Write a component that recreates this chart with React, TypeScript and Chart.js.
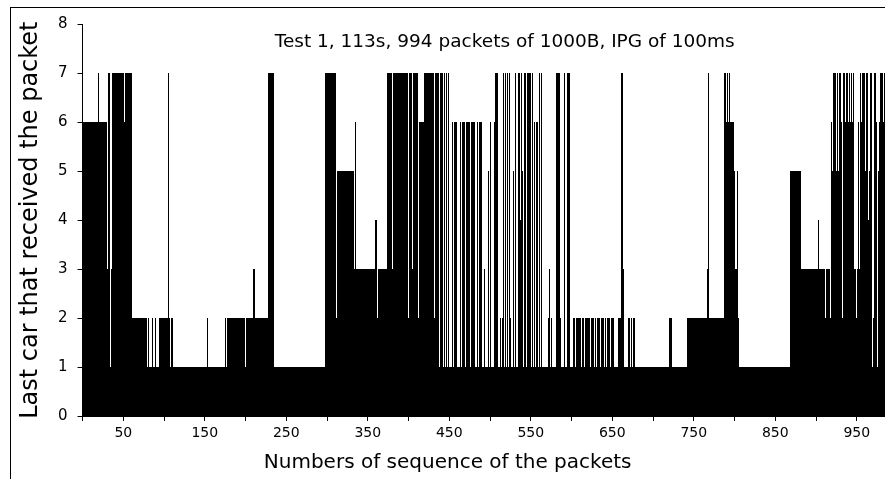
import React, { useEffect, useRef } from 'react';
import { Chart, registerables } from 'chart.js';

Chart.register(...registerables);

// Run-length readings of the picture: [last car reached, number of consecutive packets]
type Run = [number, number];

const runsA: Run[] = [
  [6, 19], [7, 1], [6, 10], [3, 1], [7, 2], [1, 1], [7, 1], [3, 1], [7, 14], [6, 1], [7, 9],
  [2, 19], [1, 1], [2, 1], [1, 4], [2, 1], [1, 3], [2, 1], [1, 3], [2, 1], [1, 1], [2, 4],
  [1, 1], [2, 4], [7, 1], [1, 1], [2, 1], [1, 1], [2, 2],
];
const runsB: Run[] = [
  [1, 42], [2, 1], [1, 21], [2, 2], [1, 1], [2, 22], [1, 1], [2, 9], [3, 2], [2, 16], [7, 8],
];
const runsC: Run[] = [
  [1, 62], [7, 8], [3, 1], [7, 5], [2, 1], [5, 14], [2, 1], [5, 6], [3, 1], [6, 1], [3, 23], [4, 3],
];
const runsD: Run[] = [
  [2, 1], [3, 11], [7, 6], [3, 1], [7, 6], [6, 1], [7, 12], [2, 1], [7, 4], [3, 1], [7, 6],
  [2, 1], [6, 7], [7, 5], [4, 1], [7, 6], [2, 1], [7, 5], [1, 1], [7, 2], [1, 1], [7, 1],
  [1, 1], [7, 1], [1, 2], [7, 1],
];
const runsE: Run[] = [
  [1, 1], [7, 1], [1, 2], [6, 1], [1, 1], [6, 1], [1, 1], [6, 1], [1, 1], [6, 2], [1, 2],
  [6, 1], [1, 1], [6, 1], [1, 1], [6, 4], [1, 1], [6, 2], [1, 1], [6, 2], [1, 1], [6, 2],
  [1, 1], [6, 2], [1, 2], [3, 1], [6, 1], [1, 1], [6, 2], [3, 1], [6, 1], [1, 2], [3, 1],
  [1, 4], [5, 1], [1, 2], [6, 1], [1, 3], [6, 1], [7, 4], [1, 3], [2, 1], [1, 1], [2, 1],
  [1, 1], [7, 1], [1, 1], [7, 1], [1, 1], [7, 1], [4, 1], [1, 1], [7, 1], [2, 1], [1, 1],
  [7, 1], [1, 1], [5, 1], [1, 1], [7, 1], [1, 1], [5, 1], [1, 1], [7, 2], [4, 1], [1, 1],
  [7, 1], [5, 1], [1, 1], [7, 1],
];
const runsF: Run[] = [
  [7, 2], [1, 1], [7, 3], [1, 1], [7, 1], [1, 1], [7, 1], [1, 1], [7, 1], [6, 1], [1, 1],
  [6, 2], [1, 1], [6, 1], [7, 1], [1, 1], [7, 1], [1, 1], [7, 1], [1, 6], [2, 1], [3, 1],
  [1, 1], [2, 2], [1, 5], [7, 4], [2, 2], [1, 3], [7, 1], [2, 1], [1, 2], [7, 4], [1, 3],
  [2, 3], [1, 1], [2, 2], [1, 1], [2, 3], [1, 1], [2, 3], [1, 1], [2, 2], [1, 1], [2, 3],
  [1, 1], [2, 4], [1, 1], [2, 2], [1, 1], [2, 2],
];
const runsG: Run[] = [
  [2, 2], [1, 1], [2, 3], [1, 1], [2, 2], [1, 1], [2, 4], [1, 1], [2, 4], [1, 4], [2, 4],
  [7, 1], [2, 1], [7, 1], [3, 1], [1, 5], [2, 2], [1, 1], [2, 2], [1, 1], [2, 2], [1, 42], [2, 4],
];
const runsH: Run[] = [
  [1, 18], [2, 25], [3, 1], [7, 1], [2, 18], [7, 3], [6, 1], [7, 2], [6, 1], [7, 1], [6, 2],
  [3, 1], [6, 2], [5, 1], [3, 3], [5, 1], [2, 1], [1, 62], [4, 1], [5, 13], [3, 21], [4, 1],
  [3, 8], [2, 1], [3, 5], [2, 1], [6, 1], [5, 1],
];
const runsI: Run[] = [
  [7, 1], [4, 1], [7, 2], [5, 1], [7, 2], [5, 1], [7, 2], [6, 1], [7, 1], [2, 1], [7, 2],
  [6, 1], [7, 3], [6, 1], [7, 1], [6, 1], [7, 2], [6, 1], [7, 1],
];
const runsJ: Run[] = [
  [3, 3], [2, 1], [3, 1], [6, 1], [3, 1], [6, 1], [7, 1], [6, 1], [7, 2], [6, 1], [7, 1],
  [5, 1], [7, 2], [4, 1], [7, 1], [5, 1], [7, 2], [1, 1], [7, 1], [2, 1], [7, 2], [6, 1],
  [1, 1], [7, 1], [5, 1], [6, 1], [7, 2], [6, 1], [7, 1], [6, 1], [7, 2],
  [6, 1], [7, 2], [5, 1], [7, 1], [6, 1], [7, 3],
];

const yTickValues = [0, 1, 2, 3, 4, 5, 6, 7, 8];
const xLabelledTicks = [50, 150, 250, 350, 450, 550, 650, 750, 850, 950];

const chartTitle = 'Test 1, 113s, 994 packets of 1000B, IPG of 100ms';
const xAxisLabel = 'Numbers of sequence of the packets';
const yAxisLabel = 'Last car that received the packet';

const allRuns: Run[] = [
  ...runsA, ...runsB, ...runsC, ...runsD, ...runsE, ...runsF, ...runsG, ...runsH, ...runsI, ...runsJ,
];
const lastCar: number[] = [];
allRuns.forEach(([v, n]) => {
  for (let k = 0; k < n; k++) lastCar.push(v);
});
const packets = lastCar.map((v, i) => ({ x: i + 1, y: v }));

const CANVAS_W = 905;
const CANVAS_H = 479;
const FONT = '"DejaVu Sans", "Liberation Sans", sans-serif';

// Snap the bars' edges to whole pixels (as the original raster did) so that
// neighbouring bars join without anti-aliasing seams.
const snapBars = {
  id: 'snapBars',
  afterDatasetsUpdate(chart: any) {
    chart.getDatasetMeta(0).data.forEach((el: any) => {
      const l = Math.round(el.x - el.width / 2);
      const r = Math.round(el.x + el.width / 2);
      el.x = (l + r) / 2;
      el.width = r - l;
      el.y = Math.round(el.y);
      el.base = Math.round(el.base);
    });
  },
};

const annotate = {
  id: 'annotate',
  afterDraw(chart: any) {
    const { ctx, chartArea } = chart;
    const xs = chart.scales.x;
    const ys = chart.scales.y;
    ctx.save();
    ctx.fillStyle = '#000';
    ctx.textAlign = 'center';
    ctx.textBaseline = 'middle';
    ctx.font = `18.5px ${FONT}`;
    ctx.fillText(chartTitle, xs.getPixelForValue(518), ys.getPixelForValue(7.64));
    ctx.font = `20px ${FONT}`;
    ctx.fillText(xAxisLabel, xs.getPixelForValue(448), chartArea.bottom + 47);
    ctx.restore();
  },
};

export default function App() {
  const ref = useRef<HTMLCanvasElement>(null);
  useEffect(() => {
    const canvas = ref.current!;
    const chart = new Chart(canvas, {
      type: 'bar',
      data: {
        datasets: [
          {
            data: packets as any,
            backgroundColor: '#000',
            borderWidth: 0,
            barPercentage: 1,
            categoryPercentage: 1,
            inflateAmount: 0,
          } as any,
        ],
      },
      options: {
        animation: false,
        responsive: false,
        maintainAspectRatio: false,
        devicePixelRatio: 1,
        layout: { padding: { left: 0, top: 24.3, right: CANVAS_W - 897.5, bottom: 0 } },
        plugins: { legend: { display: false }, tooltip: { enabled: false } },
        scales: {
          x: {
            type: 'linear',
            min: 0,
            max: 1000,
            offset: false,
            grid: { offset: false, drawOnChartArea: false, drawTicks: true, tickLength: 5, color: '#000' },
            border: { display: true, color: '#000', width: 1 },
            ticks: {
              stepSize: 50,
              autoSkip: false,
              maxRotation: 0,
              padding: 4,
              color: '#000',
              font: { family: FONT, size: 14 },
              callback: (v: any) => (xLabelledTicks.includes(Number(v)) ? String(v) : ''),
            },
            afterFit: (s: any) => {
              s.height = CANVAS_H - 416;
            },
          },
          y: {
            type: 'linear',
            min: 0,
            max: 8,
            grid: { drawOnChartArea: false, drawTicks: true, tickLength: 5, color: '#000' },
            border: { display: true, color: '#000', width: 1 },
            ticks: {
              stepSize: 1,
              padding: 10,
              color: '#000',
              font: { family: FONT, size: 15 },
              callback: (v: any) => (yTickValues.includes(Number(v)) ? String(v) : ''),
            },
            title: {
              display: true,
              text: yAxisLabel,
              color: '#000',
              font: { family: FONT, size: 24 },
              padding: { top: 16, bottom: 0 },
            },
            afterFit: (s: any) => {
              s.width = 82.56;
            },
          },
        },
      },
      plugins: [snapBars, annotate],
    });
    return () => chart.destroy();
  }, []);

  return (
    <div
      style={{
        position: 'fixed',
        left: 0,
        top: 0,
        width: 885,
        height: 479,
        overflow: 'hidden',
        background: '#fff',
      }}
    >
      <canvas
        ref={ref}
        width={CANVAS_W}
        height={CANVAS_H}
        style={{ position: 'absolute', left: 0, top: 0, width: CANVAS_W, height: CANVAS_H }}
      />
      <div
        style={{
          position: 'absolute',
          left: 10,
          top: 7,
          right: -20,
          bottom: -20,
          borderLeft: '1px solid #000',
          borderTop: '1px solid #000',
          pointerEvents: 'none',
        }}
      />
    </div>
  );
}
